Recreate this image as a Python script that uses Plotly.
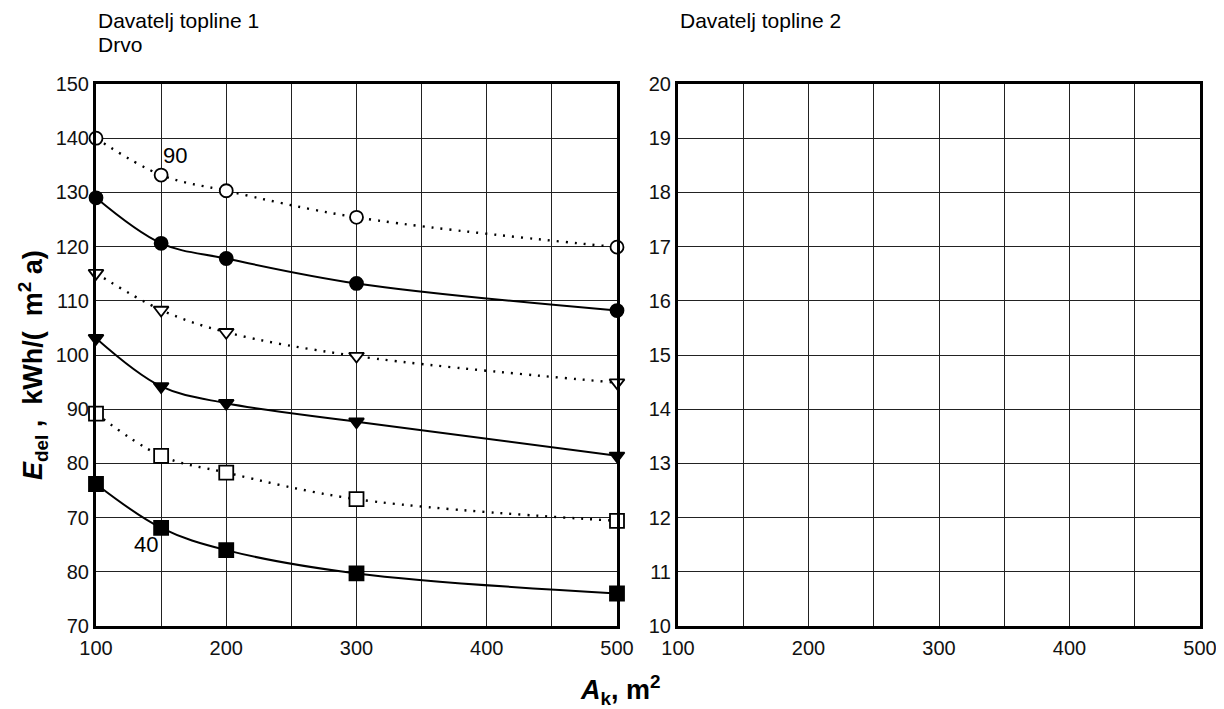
import plotly.graph_objects as go

# ---- data ----
area = [100, 150, 200, 300, 500]
open_circle = [140.0, 133.2, 130.3, 125.4, 119.9]
filled_circle = [129.0, 120.6, 117.8, 113.2, 108.2]
open_tri = [115.1, 108.3, 104.2, 99.8, 94.9]
filled_tri = [103.1, 94.2, 91.1, 87.7, 81.4]
open_square = [89.2, 81.4, 78.3, 73.4, 69.4]
filled_square = [76.2, 68.1, 64.0, 59.7, 56.0]

left_y_tickvals = [150, 140, 130, 120, 110, 100, 90, 80, 70, 60, 50]
left_y_ticktext = ["150", "140", "130", "120", "110", "100", "90", "80", "70", "80", "70"]
right_y_tickvals = [20, 19, 18, 17, 16, 15, 14, 13, 12, 11, 10]
x_tickvals = [100, 200, 300, 400, 500]

W, H = 1224, 709
OFF = 8                      # page body margin offset
TOP_S, BOT_S = 84, 626       # plot top / bottom in screen pixels
T = TOP_S - OFF
B = H - (BOT_S - OFF)
PH = H - T - B
FONT = "Liberation Sans, Arial, sans-serif"


def px(xs):
    return (xs - OFF) / W


def py(ys):
    return 1 - (ys - OFF - T) / PH


fig = go.Figure()

series = [
    (open_circle, "circle", True, "dot", 13),
    (filled_circle, "circle", False, "solid", 13),
    (open_tri, "triangle-down", True, "dot", 13),
    (filled_tri, "triangle-down", False, "solid", 13),
    (open_square, "square", True, "dot", 14),
    (filled_square, "square", False, "solid", 14),
]
for ys, sym, is_open, dash, size in series:
    fig.add_trace(go.Scatter(
        x=area, y=ys, mode="lines+markers",
        line=dict(color="black", width=2 if dash == "solid" else 2.4,
                  shape="spline", dash="2px,7px" if dash == "dot" else "solid"),
        marker=dict(symbol=sym, size=size, color="white" if is_open else "black",
                    line=dict(color="black", width=1.8)),
        xaxis="x", yaxis="y", showlegend=False, cliponaxis=False,
    ))

# empty right panel
fig.add_trace(go.Scatter(x=[None], y=[None], xaxis="x2", yaxis="y2", showlegend=False))

grid = dict(showgrid=True, gridcolor="#222222", gridwidth=1.3, automargin=False,
            showline=True, linecolor="black", linewidth=3, mirror=True,
            zeroline=False, ticks="", tickfont=dict(family=FONT, size=20, color="#111111"))
xminor = dict(dtick=50, tick0=100, showgrid=True, gridcolor="#222222", gridwidth=1.3, ticks="")

fig.update_layout(
    width=W, height=H,
    margin=dict(l=0, r=0, t=T, b=B, pad=0),
    paper_bgcolor="white", plot_bgcolor="white",
    xaxis=dict(domain=[px(96), px(617)], range=[100, 500], ticklabelstandoff=2,
               tickvals=x_tickvals, minor=xminor, anchor="y", **grid),
    yaxis=dict(domain=[0, 1], range=[50, 150], tickvals=left_y_tickvals,
               ticktext=left_y_ticktext, anchor="x", **grid),
    xaxis2=dict(domain=[px(678), px(1200)], range=[100, 500], ticklabelstandoff=2,
                tickvals=x_tickvals, minor=xminor, anchor="y2", **grid),
    yaxis2=dict(domain=[0, 1], range=[10, 20], tickvals=right_y_tickvals,
                anchor="x2", **grid),
)

ann = [
    dict(text="Davatelj topline 1", xref="paper", yref="paper", x=px(96), y=py(21),
         xanchor="left", yanchor="middle", showarrow=False,
         font=dict(family=FONT, size=21, color="black")),
    dict(text="Drvo", xref="paper", yref="paper", x=px(96), y=py(44),
         xanchor="left", yanchor="middle", showarrow=False,
         font=dict(family=FONT, size=21, color="black")),
    dict(text="Davatelj topline 2", xref="paper", yref="paper", x=px(678), y=py(21),
         xanchor="left", yanchor="middle", showarrow=False,
         font=dict(family=FONT, size=21, color="black")),
    dict(text="90", x=161, y=136.9, xref="x", yref="y", showarrow=False,
         font=dict(family=FONT, size=22, color="black")),
    dict(text="40", x=138, y=65.0, xref="x", yref="y", showarrow=False,
         font=dict(family=FONT, size=22, color="black")),
    dict(text="<i><b>A</b></i><sub><b>k</b></sub><b>, m<sup>2</sup></b>",
         xref="paper", yref="paper", x=px(620), y=py(690),
         xanchor="center", yanchor="middle", showarrow=False,
         font=dict(family=FONT, size=27, color="black")),
    dict(text="<i><b>E</b></i><sub><b>del</b></sub><b> ,  kWh/(  m<sup>2</sup> a)</b>",
         xref="paper", yref="paper", x=px(33), y=py(365),
         xanchor="center", yanchor="middle", textangle=-90, showarrow=False,
         font=dict(family=FONT, size=27, color="black")),
]
fig.update_layout(annotations=ann)

fig.write_html("out.html")
